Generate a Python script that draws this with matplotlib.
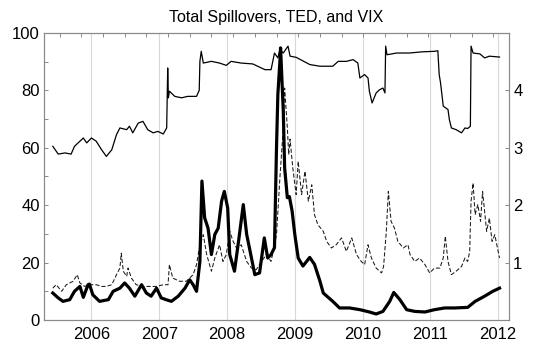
import matplotlib
matplotlib.use("Agg")
import matplotlib.pyplot as plt
import numpy as np

plt.rcParams['font.family'] = ['Liberation Sans', 'DejaVu Sans']

# ---- data (decimal years) ----
spill_t = [2005.43, 2005.51, 2005.61, 2005.70, 2005.75, 2005.88, 2005.93, 2006.00, 2006.07,
           2006.15, 2006.22, 2006.30, 2006.37, 2006.42, 2006.52, 2006.56, 2006.61, 2006.69,
           2006.76, 2006.83, 2006.91, 2006.98, 2007.06, 2007.11, 2007.125, 2007.135, 2007.15,
           2007.23, 2007.33, 2007.42, 2007.55, 2007.59, 2007.60, 2007.62, 2007.65, 2007.77,
           2007.89, 2007.99, 2008.06, 2008.21, 2008.38, 2008.56, 2008.65, 2008.70, 2008.75,
           2008.78, 2008.83, 2008.90, 2008.93, 2009.02, 2009.22, 2009.37, 2009.56, 2009.64,
           2009.76, 2009.86, 2009.93, 2009.96, 2010.03, 2010.08, 2010.10, 2010.14, 2010.20,
           2010.25, 2010.30, 2010.33, 2010.34, 2010.36, 2010.50, 2010.69, 2010.87, 2011.06,
           2011.11, 2011.13, 2011.15, 2011.19, 2011.26, 2011.28, 2011.31, 2011.38, 2011.46,
           2011.51, 2011.55, 2011.59, 2011.60, 2011.63, 2011.73, 2011.80, 2011.87, 2012.02]
spill_v = [60.5, 57.8, 58.2, 57.8, 60.5, 63.4, 61.7, 63.4, 62.3,
           59.3, 57.0, 59.3, 64.6, 66.9, 66.3, 67.5, 65.2, 68.6,
           69.2, 66.3, 65.2, 65.7, 64.8, 66.9, 87.8, 77.4, 79.7,
           77.9, 77.4, 77.9, 77.9, 80.0, 90.1, 93.6, 89.5, 90.1,
           89.5, 88.7, 90.1, 89.5, 89.2, 87.2, 87.2, 93.0, 91.3,
           94.2, 93.0, 95.4, 91.9, 91.5, 89.0, 88.4, 88.4, 90.1,
           90.1, 90.7, 89.5, 84.3, 85.5, 84.3, 79.7, 75.6, 79.1,
           80.2, 80.8, 79.1, 95.4, 92.4, 93.0, 93.0, 93.4, 93.6,
           93.8, 85.5, 82.6, 74.5, 73.3, 69.8, 66.9, 66.3, 65.2,
           66.9, 66.7, 67.5, 95.4, 93.0, 92.7, 91.3, 91.9, 91.6]

ted_t = [2005.43, 2005.51, 2005.58, 2005.68, 2005.75, 2005.83, 2005.88, 2005.95, 2005.97,
         2006.02, 2006.12, 2006.25, 2006.32, 2006.42, 2006.49, 2006.56, 2006.64, 2006.74,
         2006.81, 2006.88, 2006.96, 2007.03, 2007.10, 2007.18, 2007.28, 2007.38, 2007.45,
         2007.50, 2007.55, 2007.60, 2007.63, 2007.67, 2007.72, 2007.77, 2007.82, 2007.87,
         2007.92, 2007.96, 2008.01, 2008.04, 2008.11, 2008.17, 2008.24, 2008.29, 2008.33,
         2008.41, 2008.48, 2008.55, 2008.60, 2008.65, 2008.70, 2008.73, 2008.75, 2008.78,
         2008.79, 2008.83, 2008.85, 2008.89, 2008.92, 2008.96, 2009.00, 2009.05, 2009.12,
         2009.22, 2009.29, 2009.37, 2009.42, 2009.56, 2009.66, 2009.81, 2009.96, 2010.10,
         2010.20, 2010.30, 2010.40, 2010.46, 2010.55, 2010.65, 2010.77, 2010.92, 2011.06,
         2011.21, 2011.36, 2011.55, 2011.66, 2011.80, 2011.92, 2012.02]
ted_v = [0.47, 0.385, 0.325, 0.355, 0.50, 0.585, 0.395, 0.615, 0.625,
         0.44, 0.325, 0.355, 0.50, 0.555, 0.645, 0.555, 0.415, 0.615,
         0.47, 0.415, 0.555, 0.385, 0.355, 0.325, 0.415, 0.555, 0.70,
         0.615, 0.50, 1.02, 2.42, 1.78, 1.60, 1.14, 1.49, 1.60,
         2.07, 2.24, 1.95, 1.14, 0.85, 1.37, 2.01, 1.49, 1.26,
         0.79, 0.82, 1.43, 1.08, 1.14, 1.26, 3.00, 3.93, 4.50,
         4.74, 3.64, 2.65, 2.13, 2.15, 1.90, 1.49, 1.08, 0.94,
         1.09, 0.97, 0.68, 0.47, 0.325, 0.21, 0.21, 0.18, 0.14,
         0.105, 0.15, 0.325, 0.48, 0.355, 0.18, 0.15, 0.14, 0.18,
         0.21, 0.21, 0.22, 0.325, 0.415, 0.50, 0.555]

vix_t = [2005.43, 2005.48, 2005.56, 2005.63, 2005.73, 2005.79, 2005.83, 2005.90, 2005.97,
         2006.07, 2006.15, 2006.22, 2006.30, 2006.37, 2006.42, 2006.44, 2006.47, 2006.52,
         2006.54, 2006.59, 2006.66, 2006.76, 2006.86, 2006.96, 2007.06, 2007.13, 2007.15,
         2007.20, 2007.30, 2007.40, 2007.50, 2007.55, 2007.60, 2007.65, 2007.70, 2007.77,
         2007.82, 2007.89, 2007.94, 2007.99, 2008.04, 2008.09, 2008.14, 2008.21, 2008.29,
         2008.36, 2008.43, 2008.51, 2008.58, 2008.65, 2008.73, 2008.78, 2008.83, 2008.85,
         2008.89, 2008.91, 2008.93, 2008.97, 2009.02, 2009.05, 2009.10, 2009.15, 2009.20,
         2009.25, 2009.29, 2009.34, 2009.42, 2009.47, 2009.54, 2009.61, 2009.69, 2009.76,
         2009.84, 2009.91, 2009.98, 2010.03, 2010.08, 2010.13, 2010.20, 2010.28, 2010.31,
         2010.35, 2010.38, 2010.42, 2010.47, 2010.52, 2010.60, 2010.67, 2010.70, 2010.77,
         2010.84, 2010.92, 2010.99, 2011.06, 2011.14, 2011.19, 2011.22, 2011.26, 2011.31,
         2011.38, 2011.46, 2011.51, 2011.55, 2011.58, 2011.60, 2011.63, 2011.66, 2011.70,
         2011.74, 2011.77, 2011.83, 2011.87, 2011.91, 2011.95, 2012.02]
vix_v = [11.1, 12.3, 10.0, 12.3, 13.5, 15.8, 12.9, 11.7, 12.3,
         12.3, 11.7, 11.7, 12.3, 15.8, 18.1, 23.3, 17.0, 15.2,
         18.1, 14.6, 12.3, 11.7, 11.7, 11.7, 12.3, 12.3, 19.3,
         14.6, 13.5, 13.5, 15.8, 19.3, 26.2, 29.7, 22.8, 17.0,
         21.6, 26.2, 20.4, 22.8, 30.9, 27.4, 25.1, 26.2, 20.4,
         18.1, 17.5, 20.4, 22.8, 20.4, 29.7, 49.5, 66.9, 80.8,
         66.9, 57.6, 63.0, 53.0, 43.7, 55.3, 43.7, 51.8, 41.4,
         47.1, 36.7, 33.2, 30.9, 27.4, 25.1, 26.2, 28.6, 23.9,
         28.6, 22.8, 20.4, 19.3, 26.2, 21.6, 18.1, 16.4, 18.7,
         30.9, 44.8, 34.4, 32.0, 27.4, 25.1, 26.2, 22.8, 20.4,
         21.6, 19.3, 16.4, 18.1, 18.1, 21.6, 29.2, 20.4, 15.8,
         17.0, 18.7, 21.6, 20.4, 23.9, 41.4, 47.7, 36.7, 40.2,
         34.4, 44.8, 30.9, 35.5, 27.4, 29.7, 21.6]

title = "Total Spillovers, TED, and VIX"
years = [2006, 2007, 2008, 2009, 2010, 2011, 2012]
left_ticks = [0, 20, 40, 60, 80, 100]
right_ticks = [1, 2, 3, 4]

# ---- figure ----
fig = plt.figure(figsize=(5.54, 3.43), dpi=100)
ax = fig.add_axes([0.0794, 0.067, 0.9188 - 0.0794, 0.904 - 0.067])
ax2 = ax.twinx()

spine_col = '#8a8a8a'
for a in (ax, ax2):
    for s in a.spines.values():
        s.set_color(spine_col)
        s.set_linewidth(0.8)

for yr in years:
    ax.axvline(yr, color='#d8d8d8', lw=0.8, zorder=0)

ax.plot(spill_t, spill_v, color='black', lw=0.9, zorder=3)
ax.plot(vix_t, vix_v, color='#1a1a1a', lw=0.75, ls=(0, (4, 2)), zorder=3)
ax2.plot(ted_t, ted_v, color='black', lw=2.3, zorder=3)

ax.set_xlim(2005.30, 2012.16)
ax.set_ylim(0, 100)
ax2.set_ylim(0, 5)

ax.set_xticks(years)
ax.set_xticklabels([str(y) for y in years], fontsize=12)
ax.set_xticks(list(np.arange(2005.53, 2012.1, 0.32)), minor=True)
ax.tick_params(axis='x', which='major', length=0, pad=5)
ax.tick_params(axis='x', which='minor', direction='in', length=3, top=True, bottom=False,
               color=spine_col, width=0.7)

ax.set_yticks(left_ticks)
ax.set_yticklabels([str(v) for v in left_ticks], fontsize=12)
ax.set_yticks(list(range(10, 100, 20)), minor=True)
ax.tick_params(axis='y', which='both', direction='in', length=3, color=spine_col, width=0.7, pad=3)

ax2.set_yticks(right_ticks)
ax2.set_yticklabels([str(v) for v in right_ticks], fontsize=12)
ax2.tick_params(axis='y', direction='in', length=3, color=spine_col, width=0.7, pad=3)

ax.set_title(title, fontsize=11.5, pad=8)

fig.savefig('out.png', dpi=100)
